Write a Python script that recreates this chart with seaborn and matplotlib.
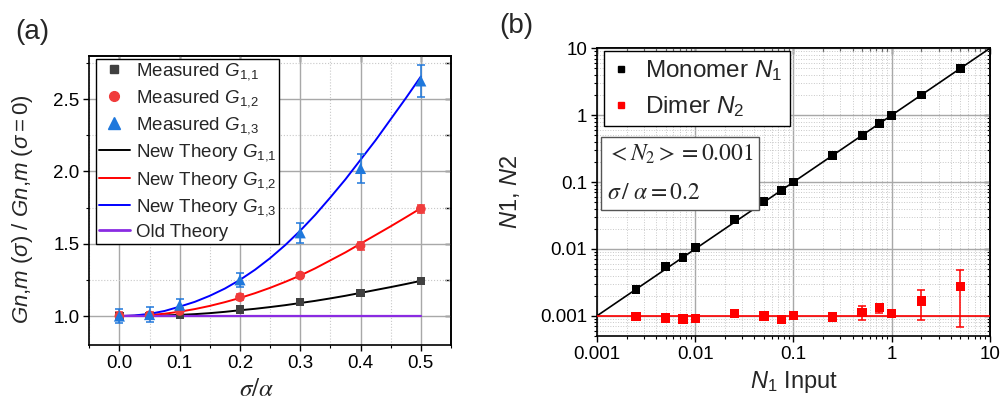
import numpy as np
import pandas as pd
import matplotlib
matplotlib.use("Agg")
import matplotlib.pyplot as plt
from matplotlib.lines import Line2D
from matplotlib.ticker import MultipleLocator, LogLocator, NullFormatter, FixedLocator, FixedFormatter
import seaborn as sns

# ==================== Data ====================
# panel (a): measured points
sigma = [0.0, 0.05, 0.1, 0.2, 0.3, 0.4, 0.5]
g11 = [1.00, 1.00, 1.01, 1.045, 1.095, 1.16, 1.24]
g11_err = [0.01, 0.01, 0.01, 0.01, 0.01, 0.01, 0.01]
g12 = [1.00, 1.005, 1.035, 1.13, 1.28, 1.485, 1.74]
g12_err = [0.03, 0.02, 0.02, 0.02, 0.02, 0.03, 0.03]
g13 = [1.00, 1.01, 1.075, 1.25, 1.575, 2.02, 2.625]
g13_err = [0.05, 0.05, 0.045, 0.05, 0.07, 0.10, 0.11]

# panel (a): theory curves
theory_x = [0.0, 0.025, 0.05, 0.075, 0.1, 0.125, 0.15, 0.175, 0.2, 0.225, 0.25,
            0.275, 0.3, 0.325, 0.35, 0.375, 0.4, 0.425, 0.45, 0.475, 0.5]
th11 = [1.0, 1.0005, 1.002, 1.004, 1.008, 1.013, 1.02, 1.029, 1.04, 1.05, 1.062,
        1.075, 1.09, 1.105, 1.122, 1.14, 1.16, 1.18, 1.20, 1.221, 1.243]
th12 = [1.0, 1.002, 1.007, 1.016, 1.03, 1.048, 1.07, 1.096, 1.125, 1.158, 1.195,
        1.236, 1.28, 1.33, 1.385, 1.44, 1.50, 1.56, 1.62, 1.682, 1.745]
th13 = [1.0, 1.004, 1.015, 1.035, 1.065, 1.098, 1.14, 1.19, 1.25, 1.32, 1.40,
        1.49, 1.59, 1.70, 1.82, 1.945, 2.08, 2.215, 2.36, 2.505, 2.655]
old_x = [0.0, 0.5]
old_y = [1.0, 1.0]

# panel (b)
n1_input = [0.0025, 0.005, 0.0075, 0.01, 0.025, 0.05, 0.075, 0.1, 0.25, 0.5, 0.75, 1.0, 2.0, 5.0]
monomer = [0.0025, 0.0055, 0.0074, 0.0104, 0.0275, 0.051, 0.075, 0.1, 0.25, 0.5, 0.75, 1.0, 2.0, 5.0]
dimer = [0.00098, 0.00093, 0.0009, 0.00092, 0.00108, 0.00099, 0.00088, 0.00102,
         0.00096, 0.00111, 0.00132, 0.00108, 0.00167, 0.00274]
dimer_low = [0.00098, 0.00093, 0.0009, 0.00092, 0.00108, 0.00099, 0.00088, 0.00102,
             0.00096, 0.00088, 0.00111, 0.00100, 0.00088, 0.00067]
dimer_high = [0.00098, 0.00093, 0.0009, 0.00092, 0.00108, 0.00099, 0.00088, 0.00102,
              0.00096, 0.00138, 0.00149, 0.00118, 0.00247, 0.0048]
mono_line_x = [0.001, 10]
mono_line_y = [0.001, 10]
dimer_line_y = [0.001, 0.001]

a_ticks = [0.0, 0.1, 0.2, 0.3, 0.4, 0.5]
b_ticks = [0.001, 0.01, 0.1, 1, 10]
b_ticklabels = ["0.001", "0.01", "0.1", "1", "10"]

# ==================== Style ====================
sns.set_theme(style="ticks")
plt.rcParams.update({
    "font.family": ["Liberation Sans", "DejaVu Sans"],
    "mathtext.fontset": "custom",
    "mathtext.rm": "Liberation Sans",
    "mathtext.it": "Liberation Sans:italic",
    "mathtext.bf": "Liberation Sans:bold",
    "axes.edgecolor": "black",
    "axes.linewidth": 1.2,
    "xtick.color": "black",
    "ytick.color": "black",
})

C_G11 = "#404040"
C_G12 = "#f03c3c"
C_G13 = "#1f78dc"
C_OLD = "#8a2be2"
GRID_MAJ = "#a8a8a8"
GRID_MIN = "#c8c8c8"


def frame_ticks(ax, fs):
    # outward ticks on left/bottom, inward ticks on the mirrored top/right
    ax.tick_params(which="major", direction="out", length=4, width=1, labelsize=fs, pad=3)
    ax.tick_params(which="minor", direction="out", length=2.5, width=0.8)
    top = ax.secondary_xaxis("top")
    right = ax.secondary_yaxis("right")
    for sec in (top, right):
        sec.tick_params(which="major", direction="in", length=4, width=1,
                        labeltop=False, labelright=False)
        sec.tick_params(which="minor", direction="in", length=2.5, width=0.8)
    return top, right


fig = plt.figure(figsize=(10.03, 4.03), dpi=100)

# ==================== Panel (a) ====================
ax1 = fig.add_axes([0.089, 0.144, 0.3606, 0.718])

th_df = pd.DataFrame({
    "x": theory_x * 3,
    "y": th11 + th12 + th13,
    "curve": ["G11"] * len(theory_x) + ["G12"] * len(theory_x) + ["G13"] * len(theory_x),
})
sns.lineplot(data=th_df, x="x", y="y", hue="curve",
             palette={"G11": "black", "G12": "#ff0000", "G13": "#0000ff"},
             lw=1.4, legend=False, ax=ax1, zorder=3)
sns.lineplot(x=old_x, y=old_y, color=C_OLD, lw=1.6, ax=ax1, zorder=3)

for yv, err, col, mk, ms in [(g11, g11_err, C_G11, "s", 6),
                             (g12, g12_err, C_G12, "o", 7),
                             (g13, g13_err, C_G13, "^", 8)]:
    ax1.errorbar(sigma, yv, yerr=err, fmt="none", ecolor=col, elinewidth=1.1,
                 capsize=3, capthick=1.1, zorder=4)
    sns.scatterplot(x=sigma, y=yv, color=col, marker=mk, s=ms ** 2,
                    edgecolor="none", ax=ax1, zorder=5)

ax1.set_xlim(-0.05, 0.55)
ax1.set_ylim(0.8, 2.8)
ax1.xaxis.set_major_locator(FixedLocator(a_ticks))
ax1.xaxis.set_minor_locator(MultipleLocator(0.05))
ax1.yaxis.set_major_locator(FixedLocator([1.0, 1.5, 2.0, 2.5]))
ax1.yaxis.set_minor_locator(MultipleLocator(0.25))
ax1.set_xticklabels([f"{t:.1f}" for t in a_ticks])
ax1.grid(which="major", color=GRID_MAJ, lw=1.0, ls="-")
ax1.grid(which="minor", color=GRID_MIN, lw=0.8, ls=":")
ax1.set_axisbelow(True)
frame_ticks(ax1, 13.5)

ax1.set_xlabel(r"$\sigma/\alpha$", fontsize=18, math_fontfamily="stix")
ax1.xaxis.set_label_coords(0.462, -0.112)
ax1.set_ylabel(r"$Gn{,}m$ ($\sigma$) / $Gn{,}m$ ($\sigma = 0$)", fontsize=16)
ax1.yaxis.set_label_coords(-0.15, 0.47)

handles_a = [
    Line2D([], [], ls="none", marker="s", color=C_G11, ms=6),
    Line2D([], [], ls="none", marker="o", color=C_G12, ms=7),
    Line2D([], [], ls="none", marker="^", color=C_G13, ms=8),
    Line2D([], [], color="black", lw=1.4),
    Line2D([], [], color="#ff0000", lw=1.4),
    Line2D([], [], color="#0000ff", lw=1.4),
    Line2D([], [], color=C_OLD, lw=2.0),
]
labels_a = [r"Measured $G_{1{,}1}$", r"Measured $G_{1{,}2}$", r"Measured $G_{1{,}3}$",
            r"New Theory $G_{1{,}1}$", r"New Theory $G_{1{,}2}$", r"New Theory $G_{1{,}3}$",
            "Old Theory"]
leg1 = ax1.legend(handles_a, labels_a, loc="upper left", bbox_to_anchor=(0.018, 0.99),
                  fontsize=13.5, frameon=True, fancybox=False, framealpha=1,
                  edgecolor="black", handlelength=1.65, handletextpad=0.35,
                  labelspacing=0.33, borderpad=0.15, borderaxespad=0.0)
leg1.get_frame().set_linewidth(1.0)
leg1.set_zorder(10)

fig.text(0.032, 0.92, "(a)", fontsize=20, ha="center", va="center")

# ==================== Panel (b) ====================
ax2 = fig.add_axes([0.5952, 0.1663, 0.3918, 0.714])
ax2.set_xscale("log")
ax2.set_yscale("log")

sns.lineplot(x=mono_line_x, y=mono_line_y, color="black", lw=1.2, ax=ax2, zorder=3)
sns.lineplot(x=mono_line_x, y=dimer_line_y, color="#ff0000", lw=1.2, ax=ax2, zorder=3)

d = np.array(dimer)
yerr = [d - np.array(dimer_low), np.array(dimer_high) - d]
ax2.errorbar(n1_input, dimer, yerr=yerr, fmt="none", ecolor="#ff0000",
             elinewidth=1.1, capsize=3, capthick=1.1, zorder=4)
sns.scatterplot(x=n1_input, y=monomer, color="black", marker="s", s=40,
                edgecolor="none", ax=ax2, zorder=5)
sns.scatterplot(x=n1_input, y=dimer, color="#ff0000", marker="s", s=45,
                edgecolor="none", ax=ax2, zorder=5)

ax2.set_xlim(0.001, 10)
ax2.set_ylim(0.0005, 10)
for axis in (ax2.xaxis, ax2.yaxis):
    axis.set_major_locator(FixedLocator(b_ticks))
    axis.set_major_formatter(FixedFormatter(b_ticklabels))
    axis.set_minor_locator(LogLocator(base=10, subs=np.arange(2, 10)))
    axis.set_minor_formatter(NullFormatter())
ax2.grid(which="major", color=GRID_MAJ, lw=1.0, ls="-")
ax2.grid(which="minor", color=GRID_MIN, lw=0.7, ls=":")
ax2.set_axisbelow(True)
frame_ticks(ax2, 13.5)

ax2.set_xlabel(r"$N_1$ Input", fontsize=17)
ax2.xaxis.set_label_coords(0.5, -0.115)
ax2.set_ylabel(r"$N$1, $N$2", fontsize=17)
ax2.yaxis.set_label_coords(-0.19, 0.5)

handles_b = [Line2D([], [], ls="none", marker="s", color="black", ms=5),
             Line2D([], [], ls="none", marker="s", color="#ff0000", ms=5)]
leg2 = ax2.legend(handles_b, [r"Monomer $N_1$", r"Dimer $N_2$"], loc="upper left",
                  bbox_to_anchor=(0.018, 0.99), fontsize=17.5, frameon=True, fancybox=False,
                  framealpha=1, edgecolor="black", handlelength=0.8, handletextpad=0.6,
                  labelspacing=0.45, borderpad=0.3, borderaxespad=0.0)
leg2.get_frame().set_linewidth(1.0)
leg2.set_zorder(10)

ax2.text(0.025, 0.565, "$< N_2 > = 0.001$\n$\\sigma\\, /\\ \\alpha = 0.2$",
         transform=ax2.transAxes, fontsize=17, math_fontfamily="stix",
         va="center", ha="left", linespacing=1.9, zorder=10,
         bbox=dict(boxstyle="square,pad=0.25", fc="white", ec="#555555", lw=1.0))

fig.text(0.515, 0.935, "(b)", fontsize=20, ha="center", va="center")

fig.savefig("out.png", dpi=100)
